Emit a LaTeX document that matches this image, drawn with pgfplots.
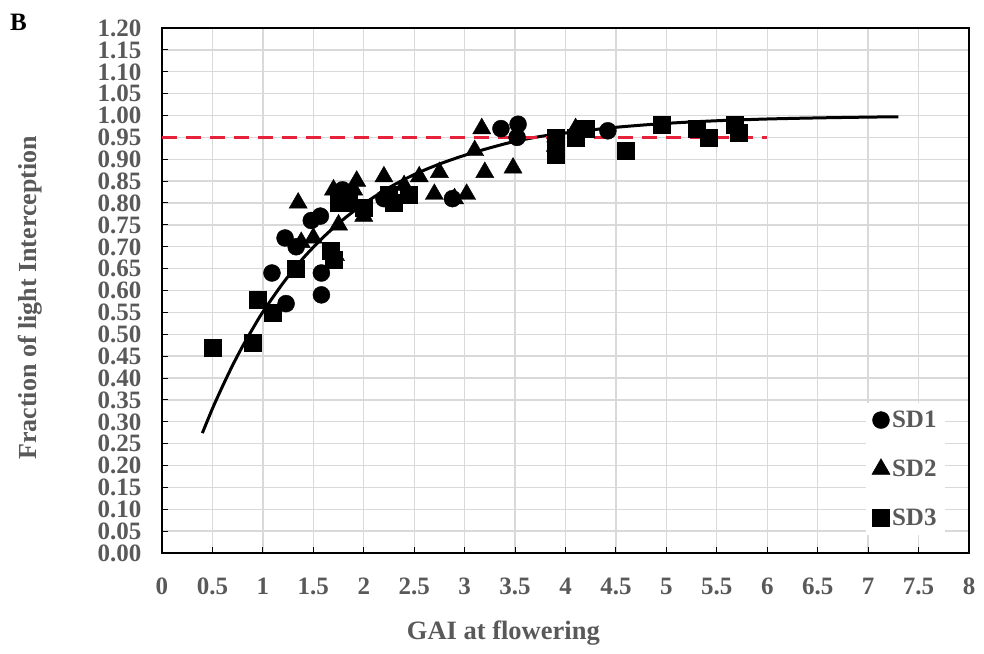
\documentclass[border=0pt]{standalone}
\usepackage{pgfplots}
\pgfplotsset{compat=1.18}
\usepackage{fontspec}
\setmainfont{Liberation Serif}
\definecolor{txtgray}{HTML}{595959}
\definecolor{gridgray}{HTML}{D9D9D9}
\definecolor{redline}{HTML}{E8213A}
\begin{document}
\begin{tikzpicture}
\begin{axis}[
  scale only axis,
  width=807pt, height=525pt,
  xmin=0, xmax=8, ymin=0, ymax=1.2,
  xtick={0,0.5,...,8},
  ytick={0,0.05,...,1.2001},
  grid=major,
  major grid style={gridgray, line width=1.3pt},
  axis line style={black, line width=1.5pt},
  tick style={black, line width=1pt},
  major tick length=6pt,
  tick align=inside,
  tick pos=left,
  font=\fontsize{25}{27}\selectfont\bfseries,
  /pgf/number format/assume math mode=true,
  yticklabel style={/pgf/number format/fixed, /pgf/number format/fixed zerofill, /pgf/number format/precision=2, text=txtgray, inner ysep=0pt, text depth=0pt, xshift=-17pt},
  xticklabel style={text=txtgray, inner ysep=0pt, text depth=0pt, yshift=-25pt},
  xlabel={GAI at flowering},
  ylabel={Fraction of light Interception},
  xlabel style={at={(axis description cs:0.423,-0.152)}, anchor=center, text=txtgray, font=\fontsize{26.5}{28}\selectfont\bfseries},
  ylabel style={at={(axis description cs:-0.1636,0.486)}, anchor=center, text=txtgray, font=\fontsize{26}{28}\selectfont\bfseries},
  legend style={at={(axis description cs:0.872,0.286)}, anchor=north west, draw=none, fill=white, row sep=27pt, font=\fontsize{25}{27}\selectfont\bfseries, text=txtgray, inner xsep=6pt, inner ysep=6pt},
  legend cell align=left,
  clip=false,
]
% fitted curve
\addplot[black, line width=3pt, forget plot, smooth] coordinates {
(0.4,0.274)(0.5,0.330)(0.6,0.381)(0.7,0.429)(0.8,0.473)(0.9,0.513)(1.0,0.551)(1.2,0.617)(1.4,0.674)(1.6,0.722)(1.8,0.763)(2.0,0.798)(2.25,0.835)(2.5,0.865)(2.75,0.889)(3.0,0.909)(3.25,0.926)(3.5,0.941)(3.75,0.952)(4.0,0.960)(4.5,0.973)(5.0,0.982)(5.5,0.988)(6.0,0.992)(6.5,0.9945)(7.0,0.9963)(7.3,0.9971)};
% SD1
\addplot[only marks, mark=*, mark size=8.5pt, black] coordinates {
(1.09,0.64)(1.23,0.57)(1.22,0.72)(1.33,0.70)(1.48,0.76)(1.57,0.77)(1.58,0.64)(1.58,0.59)(1.79,0.83)(2.2,0.81)(2.88,0.81)(3.36,0.97)(3.53,0.98)(3.52,0.95)(4.42,0.965)(3.9,0.94)};
\addlegendentry{SD1}
% SD2
\addplot[only marks, mark=triangle*, mark size=10.5pt, black] coordinates {
(1.35,0.80)(1.38,0.71)(1.5,0.72)(1.7,0.83)(1.72,0.68)(1.75,0.75)(1.9,0.83)(1.93,0.85)(2.0,0.77)(2.2,0.86)(2.4,0.84)(2.55,0.86)(2.7,0.82)(2.75,0.87)(2.9,0.81)(3.02,0.82)(3.1,0.92)(3.17,0.97)(3.2,0.87)(3.48,0.88)(3.9,0.93)(4.1,0.97)};
\addlegendentry{SD2}
% SD3
\addplot[only marks, mark=square*, mark size=8.5pt, black] coordinates {
(0.5,0.47)(0.9,0.48)(0.95,0.58)(1.1,0.55)(1.33,0.65)(1.67,0.69)(1.7,0.67)(1.75,0.80)(1.85,0.80)(2.0,0.79)(2.25,0.82)(2.3,0.80)(2.45,0.82)(3.9,0.91)(3.9,0.95)(4.1,0.95)(4.2,0.97)(4.6,0.92)(4.95,0.98)(5.3,0.97)(5.42,0.95)(5.68,0.98)(5.72,0.96)};
\addlegendentry{SD3}
% 95% line
\addplot[redline, line width=3pt, dash pattern=on 15pt off 9pt, forget plot] coordinates {(0,0.95)(6,0.95)};
\node[font=\fontsize{25}{27}\selectfont\bfseries, anchor=center] at (axis description cs:-0.178,1.011) {B};
\end{axis}
\pgfresetboundingbox
\path (current axis.south west) ++(-162pt,-100pt) rectangle ++(984pt,653pt);
\end{tikzpicture}
\end{document}
